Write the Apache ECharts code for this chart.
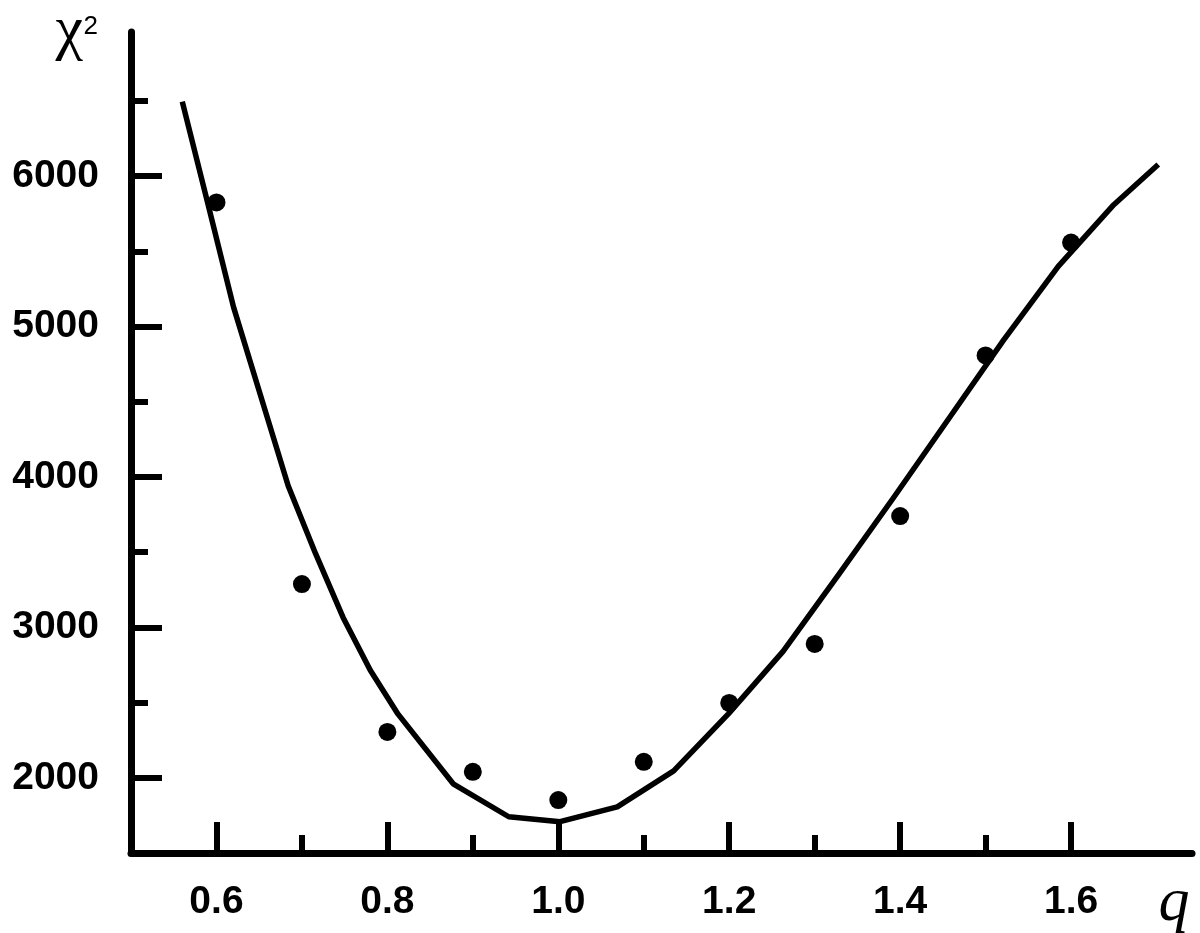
<!DOCTYPE html>
<html>
<head>
<meta charset="utf-8">
<script src="https://cdn.jsdelivr.net/npm/echarts@6/dist/echarts.min.js"></script>
<style>html,body{margin:0;padding:0;background:#fff}#c{width:1200px;height:933px}</style>
</head>
<body>
<div id="c"></div>
<script>
// measured points
const qPoints = [0.6, 0.7, 0.8, 0.9, 1.0, 1.1, 1.2, 1.3, 1.4, 1.5, 1.6];
const chiPoints = [5825, 3288, 2305, 2040, 1852, 2106, 2498, 2890, 3740, 4808, 5558];
// fitted curve (traced vertices)
const fitQ = [0.560, 0.590, 0.620, 0.650, 0.684, 0.716, 0.748, 0.780, 0.8125, 0.877, 0.942, 1.002, 1.069, 1.135, 1.199, 1.263, 1.328, 1.392, 1.456, 1.521, 1.585, 1.650, 1.702];
const fitChi = [6495, 5815, 5129, 4571, 3940, 3490, 3068, 2715, 2423, 1960, 1741, 1708, 1807, 2046, 2425, 2840, 3350, 3860, 4380, 4910, 5400, 5810, 6077];
// tick values
const xMajorTicks = [0.6, 0.8, 1.0, 1.2, 1.4, 1.6];
const xMinorTicks = [0.7, 0.9, 1.1, 1.3, 1.5];
const yMajorTicks = [2000, 3000, 4000, 5000, 6000];
const yMinorTicks = [2500, 3500, 4500, 5500, 6500];
// axis title pieces
const yTitle = 'χ';
const yTitleSup = '2';
const xTitle = 'q';

const chart = echarts.init(document.getElementById('c'), null, {renderer: 'canvas'});
const labelFont = {fontFamily: 'Liberation Sans', fontWeight: 'bold', fontSize: 39, color: '#000'};
const X_MIN = 0.5, X_MAX = 1.7415, Y_MIN = 1500, Y_MAX = 6958;

chart.setOption({
  backgroundColor: '#fff',
  animation: false,
  grid: {left: 131, right: 8, top: 32, bottom: 80, containLabel: false, outerBoundsMode: 'none'},
  xAxis: [{
    type: 'value', min: X_MIN, max: X_MAX,
    axisLine: {show: true, lineStyle: {color: '#000', width: 7}},
    axisTick: {show: true, inside: true, length: 31, lineStyle: {color: '#000', width: 6}, customValues: xMajorTicks},
    axisLabel: Object.assign({show: true, margin: 30, customValues: xMajorTicks, formatter: v => v.toFixed(1)}, labelFont),
    splitLine: {show: false},
    name: xTitle, nameLocation: 'end', nameGap: -18,
    nameTextStyle: {fontFamily: 'Liberation Serif', fontStyle: 'italic', fontSize: 62, lineHeight: 62, color: '#000', align: 'center', verticalAlign: 'top', padding: [20, 0, 0, 0]}
  }, {
    type: 'value', min: X_MIN, max: X_MAX, position: 'bottom',
    axisLine: {show: false},
    axisTick: {show: true, inside: true, length: 18, lineStyle: {color: '#000', width: 6}, customValues: xMinorTicks},
    axisLabel: {show: false},
    splitLine: {show: false}
  }],
  yAxis: [{
    type: 'value', min: Y_MIN, max: Y_MAX,
    axisLine: {show: true, lineStyle: {color: '#000', width: 7}},
    axisTick: {show: true, inside: true, length: 31, lineStyle: {color: '#000', width: 6}, customValues: yMajorTicks},
    axisLabel: Object.assign({show: true, margin: 32, customValues: yMajorTicks, formatter: v => String(v)}, labelFont),
    splitLine: {show: false},
    name: yTitle, nameLocation: 'end', nameGap: 30,
    nameTextStyle: {fontFamily: 'Liberation Serif', fontSize: 62, lineHeight: 60, color: '#000', align: 'right', verticalAlign: 'top', padding: [0, 48, 0, 0]}
  }, {
    type: 'value', min: Y_MIN, max: Y_MAX, position: 'left',
    axisLine: {show: false},
    axisTick: {show: true, inside: true, length: 17, lineStyle: {color: '#000', width: 6}, customValues: yMinorTicks},
    axisLabel: {show: false},
    splitLine: {show: false},
    name: yTitleSup, nameLocation: 'end', nameGap: 18,
    nameTextStyle: {fontFamily: 'Liberation Sans', fontSize: 26, lineHeight: 26, color: '#000', align: 'right', verticalAlign: 'top', padding: [0, 33, 0, 0]}
  }],
  series: [{
    type: 'line', xAxisIndex: 0, yAxisIndex: 0,
    data: fitQ.map((q, i) => [q, fitChi[i]]),
    showSymbol: false, symbol: 'none', smooth: false,
    lineStyle: {color: '#000', width: 5.5, join: 'round'},
    z: 2
  }, {
    type: 'scatter', xAxisIndex: 0, yAxisIndex: 0,
    data: qPoints.map((q, i) => [q, chiPoints[i]]),
    symbol: 'circle', symbolSize: 18,
    itemStyle: {color: '#000', opacity: 1},
    z: 3
  }]
});
</script>
</body>
</html>
